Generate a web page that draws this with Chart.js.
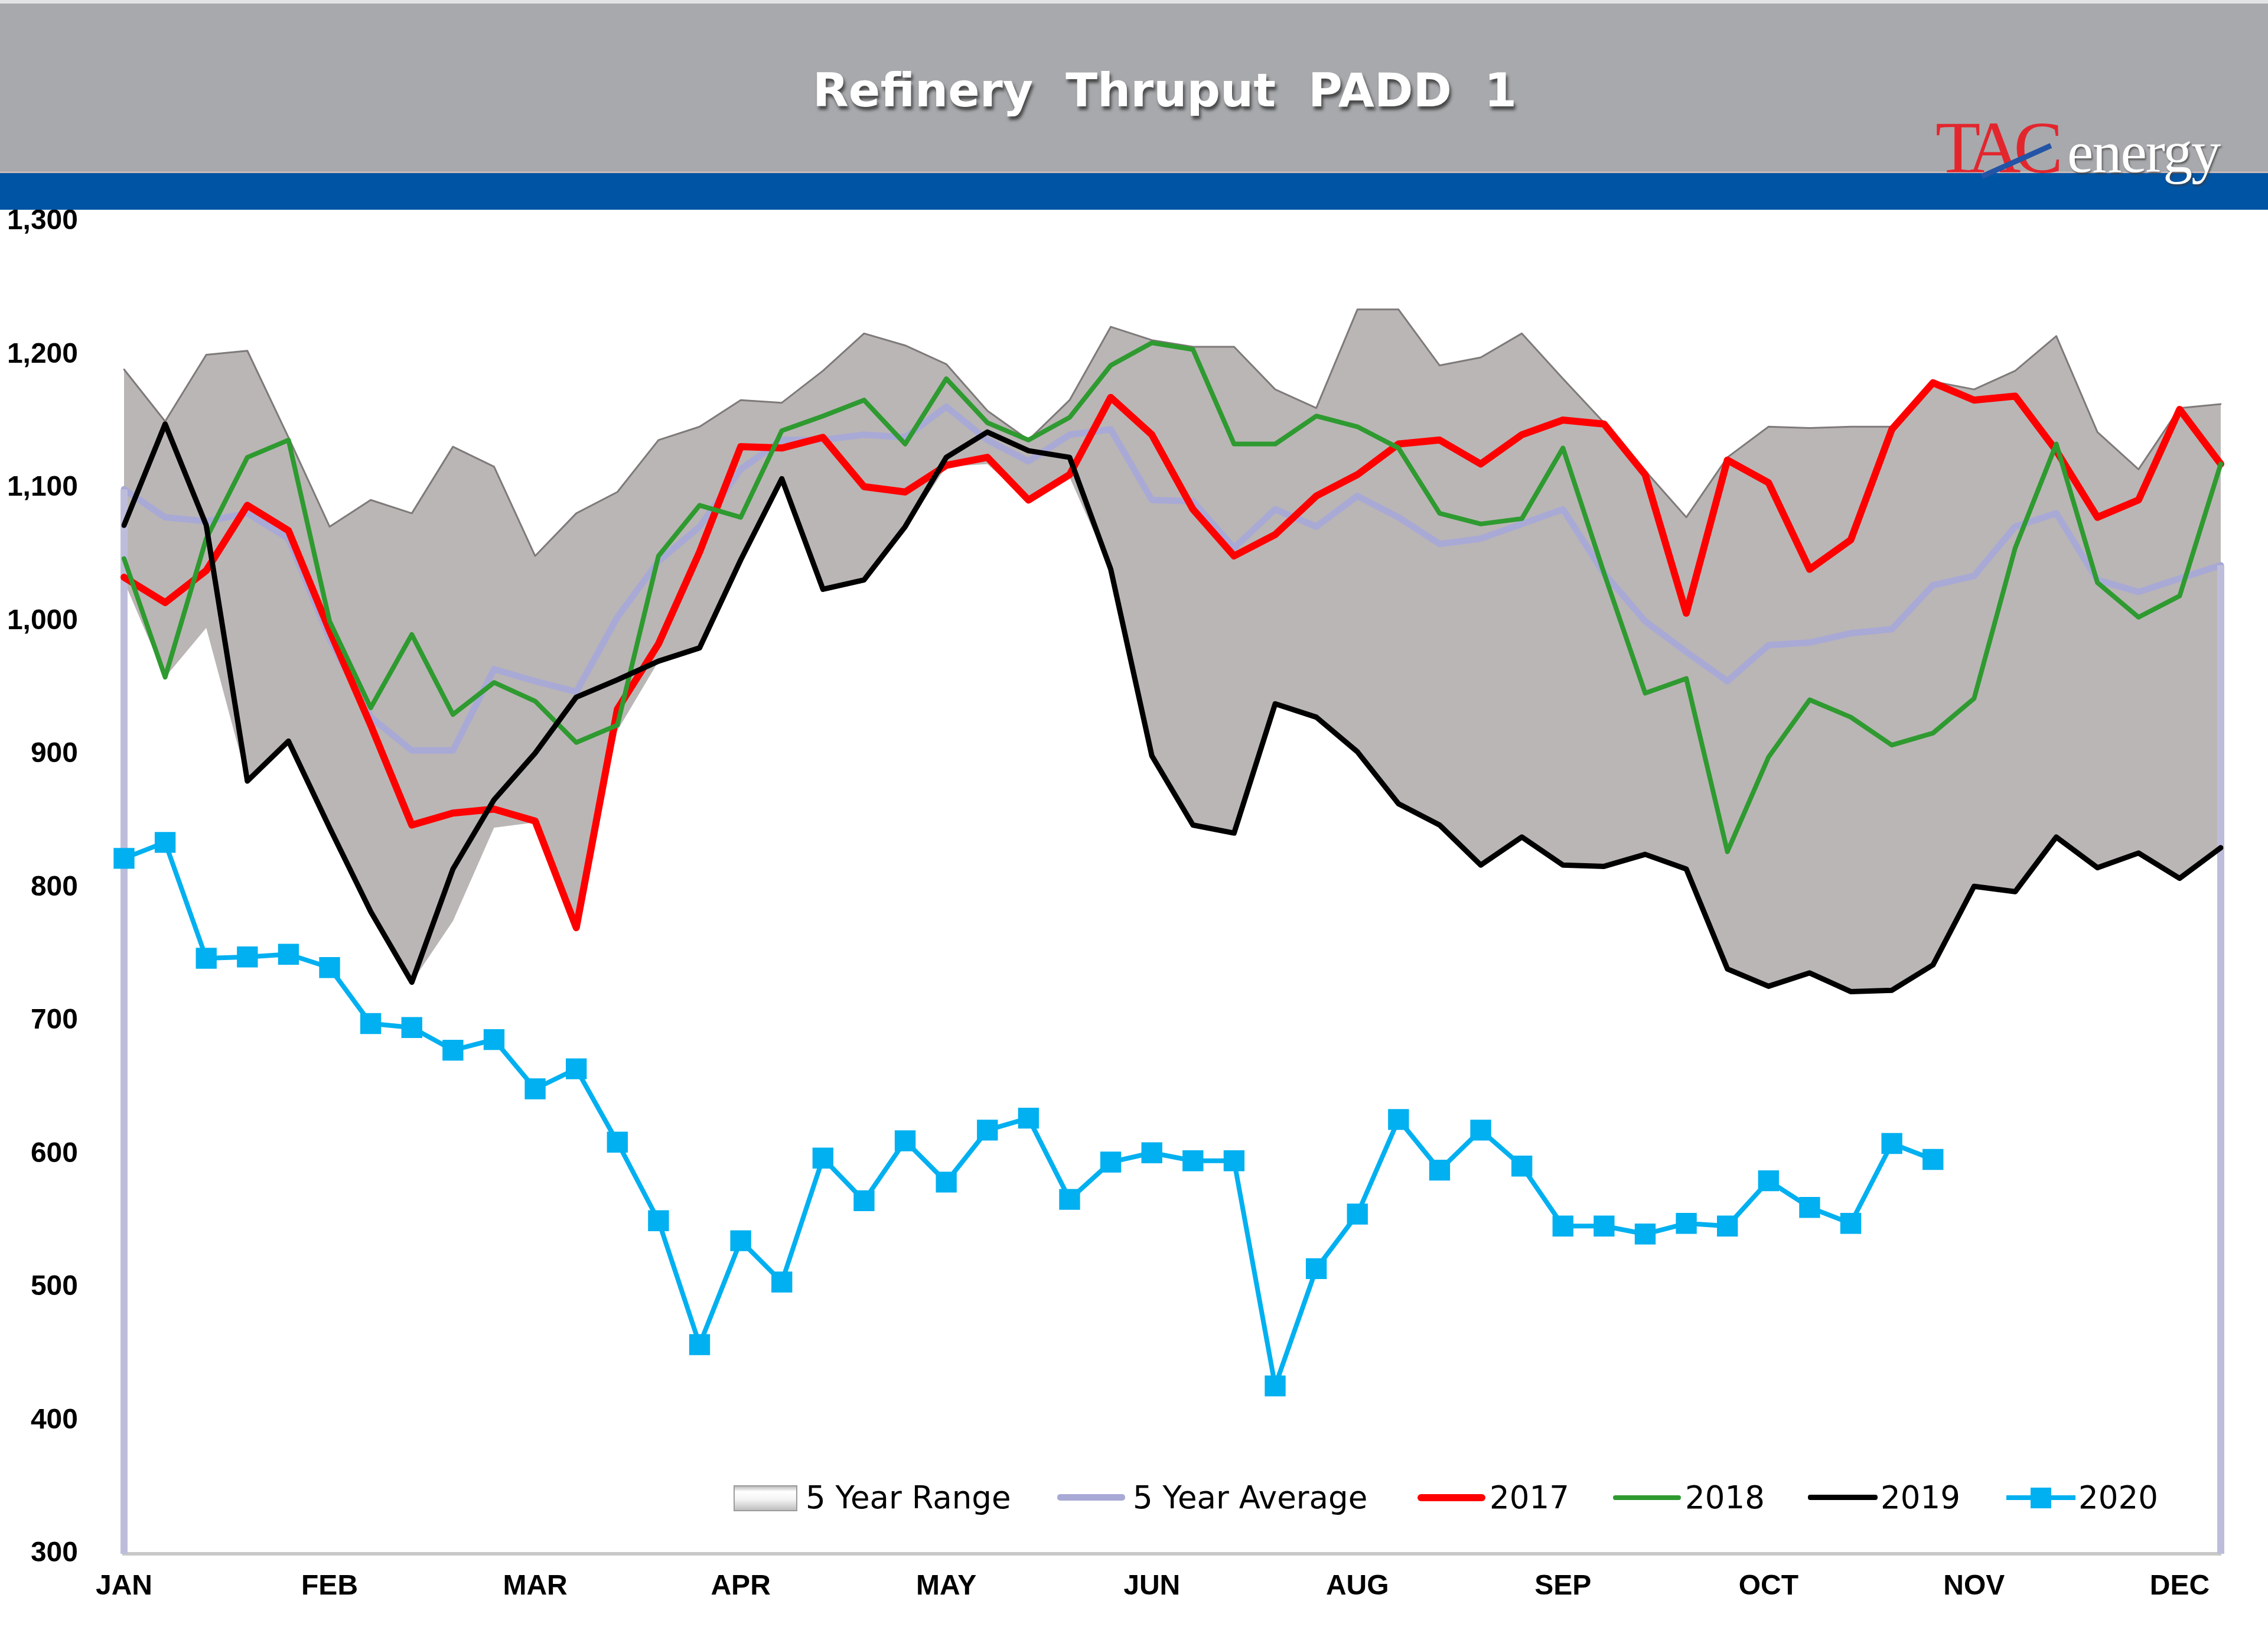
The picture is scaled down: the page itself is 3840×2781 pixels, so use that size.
<!DOCTYPE html>
<html>
<head>
<meta charset="utf-8">
<script src="https://cdn.jsdelivr.net/npm/chart.js@4.4.1/dist/chart.umd.min.js"></script>
<style>
  html, body { margin: 0; padding: 0; background: #fff; }
  #wrap { position: relative; width: 3840px; height: 2781px; overflow: hidden; background: #fff; }
  #c { position: absolute; left: 0; top: 0; }
  #hdr { position: absolute; left: 0; top: 0; width: 3840px; height: 290px; background: #a7a9ac;
         border-top: 6px solid #e2e3e5; box-sizing: border-box; z-index: 2; }
  #band { position: absolute; left: 0; top: 290px; width: 3840px; height: 65px; background: #0054a4;
          border-top: 3px solid #c9b9b9; box-sizing: border-box; z-index: 2; }
  #title { position: absolute; left: 1972px; top: 113px; transform: translateX(-50%);
           font-family: "DejaVu Sans", sans-serif; font-weight: bold; font-size: 79px; line-height: 80px;
           color: #fff; white-space: pre; letter-spacing: 0px;
           text-shadow: 3px 6px 5px rgba(40,40,40,0.75); z-index: 3; }
  #tac { position: absolute; left: 3277px; top: 188px; font-family: "Liberation Serif", serif;
         font-size: 125px; line-height: 125px; color: #e3262d; letter-spacing: -12px; z-index: 3; }
  #energy { position: absolute; left: 3500px; top: 208px; font-family: "Liberation Serif", serif;
            font-size: 100px; line-height: 100px; color: #fff; letter-spacing: -2px;
            text-shadow: 2px 3px 3px rgba(60,60,60,0.7); z-index: 3; }
  #slash { position: absolute; left: 3350px; top: 268px; width: 128px; height: 9px; background: #2354a6;
           transform: rotate(-24deg); z-index: 4; }
  .lg { position: absolute; z-index: 3; }
  .lt { position: absolute; top: 2503px; font-family: "DejaVu Sans", sans-serif; font-size: 53px;
        line-height: 64px; color: #000; white-space: nowrap; z-index: 3; }
</style>
</head>
<body>
<div id="wrap">
  <canvas id="c" width="3840" height="2781"></canvas>
  <div id="hdr"></div>
  <div id="band"></div>
  <div id="title">Refinery  Thruput  PADD  1</div>
  <div id="tac">TAC</div>
  <div id="energy">energy</div>
  <div id="slash"></div>

  <div class="lg" style="left:1242px;top:2514px;width:104px;height:40px;border:2px solid #9b9b9b;
       background:linear-gradient(#bdbdbd 0%, #ffffff 22%, #f4f4f4 55%, #bfbfbf 100%);"></div>
  <div class="lt" style="left:1364px;">5 Year Range</div>
  <div class="lg" style="left:1790px;top:2529px;width:115px;height:11px;background:#a9a9d6;border-radius:5px;"></div>
  <div class="lt" style="left:1918px;">5 Year Average</div>
  <div class="lg" style="left:2400px;top:2529px;width:115px;height:12px;background:#ff0000;border-radius:6px;"></div>
  <div class="lt" style="left:2522px;">2017</div>
  <div class="lg" style="left:2731px;top:2531px;width:115px;height:8px;background:#2e9a30;border-radius:4px;"></div>
  <div class="lt" style="left:2853px;">2018</div>
  <div class="lg" style="left:3061px;top:2530px;width:118px;height:9px;background:#000;border-radius:4px;"></div>
  <div class="lt" style="left:3184px;">2019</div>
  <div class="lg" style="left:3397px;top:2531px;width:117px;height:8px;background:#00b0f0;"></div>
  <div class="lg" style="left:3438px;top:2518px;width:35px;height:35px;background:#00b0f0;"></div>
  <div class="lt" style="left:3519px;">2020</div>
</div>

<script>
// ---- data ----
const monthTicks = ['JAN','FEB','MAR','APR','MAY','JUN','AUG','SEP','OCT','NOV','DEC'];
const weeksPerTick = 5;
const weekCount = 52;

const rangeHigh = [1189,1150,1200,1203,1138,1071,1091,1081,1131,1116,1049,1081,1097,1136,1146,1166,1164,1188,1216,1207,
                   1193,1158,1136,1166,1221,1211,1206,1206,1174,1160,1234,1234,1192,1198,1216,1182,1149,1113,1078,1123,
                   1146,1145,1146,1146,1180,1174,1188,1214,1142,1114,1160,1163];
const rangeLow  = [1030,958,995,880,908,843,782,729,775,845,849,770,918,970,978,1045,1107,1022,1029,1070,
                   1116,1118,1090,1108,1039,897,845,840,937,927,900,862,846,816,837,816,815,824,813,738,
                   725,735,721,722,741,800,796,837,814,825,806,829];
const avg5      = [1099,1078,1075,1081,1062,987,928,903,903,964,955,947,1003,1045,1071,1114,1136,1136,1140,1138,
                   1161,1136,1120,1140,1144,1091,1090,1055,1084,1071,1094,1078,1058,1062,1073,1084,1036,1000,977,955,
                   982,984,991,994,1027,1034,1071,1081,1031,1022,1032,1042];
const y2017     = [1033,1014,1038,1087,1068,993,922,847,856,859,850,770,934,983,1052,1131,1130,1138,1101,1097,
                   1117,1123,1091,1110,1168,1140,1084,1049,1065,1094,1110,1133,1136,1118,1140,1151,1148,1110,1006,1121,
                   1104,1039,1061,1144,1179,1166,1169,1128,1078,1091,1159,1118];
const y2018     = [1047,958,1062,1123,1136,1000,935,990,930,954,940,909,922,1049,1087,1078,1143,1154,1166,1133,
                   1182,1149,1136,1153,1192,1209,1204,1133,1133,1154,1146,1130,1081,1073,1077,1130,1036,946,957,827,
                   898,941,928,907,916,942,1055,1133,1029,1003,1019,1118];
const y2019     = [1072,1148,1072,880,910,845,782,729,814,866,901,943,956,970,980,1046,1107,1024,1031,1071,
                   1123,1142,1128,1123,1039,899,847,841,938,928,902,863,847,817,838,817,816,825,814,739,
                   726,736,722,723,742,801,797,838,815,826,807,830];
const y2020     = [822,834,747,748,750,740,698,695,678,686,649,664,609,550,457,535,504,597,565,610,
                   579,618,627,566,594,601,595,595,426,514,555,626,588,618,591,546,546,540,548,546,
                   580,560,548,608,596];

const yMin = 300, yMax = 1300, yStep = 100;

// category labels: month name every 5th week
const weekLabels = [];
for (let i = 0; i < weekCount; i++) {
  weekLabels.push(i % weeksPerTick === 0 ? (monthTicks[i / weeksPerTick] || '') : '');
}

const endLines = {
  id: 'endLines',
  afterDatasetDraw(chart, args) {
    if (args.meta.label !== '5 Year Average') return;
    const { ctx, scales: { x, y } } = chart;
    ctx.save();
    ctx.strokeStyle = '#bdbddb';
    ctx.lineWidth = 12;
    [0, weekCount - 1].forEach(i => {
      const px = x.getPixelForValue(i);
      ctx.beginPath();
      ctx.moveTo(px, y.getPixelForValue(avg5[i]));
      ctx.lineTo(px, y.getPixelForValue(yMin));
      ctx.stroke();
    });
    ctx.restore();
  }
};

new Chart(document.getElementById('c'), {
  type: 'line',
  data: {
    labels: weekLabels,
    datasets: [
      { label: '5 Year Range', data: rangeHigh, borderColor: '#7f7a7a', borderWidth: 3,
        backgroundColor: '#bab6b5', fill: '+1', pointRadius: 0, order: 6, tension: 0 },
      { label: 'range-low', data: rangeLow, borderColor: 'rgba(0,0,0,0)', borderWidth: 0,
        fill: false, pointRadius: 0, order: 7 },
      { label: '5 Year Average', data: avg5, borderColor: '#a9a9d6', borderWidth: 11,
        fill: false, pointRadius: 0, order: 5 },
      { label: '2017', data: y2017, borderColor: '#ff0000', borderWidth: 12,
        fill: false, pointRadius: 0, order: 4 },
      { label: '2018', data: y2018, borderColor: '#2e9a30', borderWidth: 8,
        fill: false, pointRadius: 0, order: 3 },
      { label: '2019', data: y2019, borderColor: '#000000', borderWidth: 9,
        fill: false, pointRadius: 0, order: 2 },
      { label: '2020', data: y2020, borderColor: '#00b0f0', borderWidth: 8,
        fill: false, pointStyle: 'rect', pointRadius: 25, pointBorderWidth: 0,
        pointBackgroundColor: '#00b0f0', order: 1, clip: false }
    ]
  },
  options: {
    responsive: false,
    devicePixelRatio: 1,
    animation: false,
    events: [],
    layout: { padding: { top: 375, right: 80, bottom: 0, left: 0 } },
    plugins: { legend: { display: false }, tooltip: { enabled: false } },
    elements: { line: { borderJoinStyle: 'round', borderCapStyle: 'round' } },
    scales: {
      x: {
        type: 'category',
        offset: false,
        afterFit(s) { s.height = 151; },
        grid: { display: false, drawTicks: false },
        border: { display: true, color: '#c8c8c8', width: 6 },
        ticks: { autoSkip: false, maxRotation: 0, minRotation: 0, padding: 27, color: '#000',
                 font: { family: 'Liberation Sans', weight: 'bold', size: 48 } }
      },
      y: {
        min: yMin, max: yMax,
        afterFit(s) { s.width = 210; },
        grid: { display: false, drawTicks: false },
        border: { display: false },
        ticks: { stepSize: yStep, padding: 78, color: '#000',
                 font: { family: 'Liberation Sans', weight: 'bold', size: 48 },
                 callback: v => Number(v).toLocaleString('en-US') }
      }
    }
  },
  plugins: [endLines]
});
</script>
</body>
</html>
